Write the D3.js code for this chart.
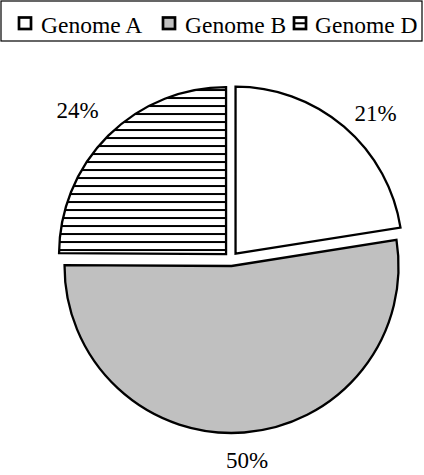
<!DOCTYPE html>
<html>
<head>
<meta charset="utf-8">
<script src="https://cdn.jsdelivr.net/npm/d3@7"></script>
<style>
  html, body { margin: 0; padding: 0; background: #fff; }
  svg { display: block; }
</style>
</head>
<body>
<svg id="chart" width="424" height="475"></svg>
<script>
// ---- data ----
const categories = ["Genome A", "Genome B", "Genome D"];
const values = [21.4, 50.0, 23.7];
const labels = ["21%", "50%", "24%"];

// ---- layout ----
const W = 424, H = 475;
const cx = 231, cy = 259, R = 167, explode = 7, labelR = 192;
const labelShift = [[7, 7], [0, 2], [-4, -6]];
const FONT = "'Liberation Serif', 'Times New Roman', serif";

const svg = d3.select("#chart");
const defs = svg.append("defs");
const hatch = defs.append("pattern")
  .attr("id", "hatch").attr("patternUnits", "userSpaceOnUse")
  .attr("width", 8).attr("height", 8).attr("y", 0);
hatch.append("rect").attr("width", 8).attr("height", 8).attr("fill", "#fff");
hatch.append("rect").attr("y", 3).attr("width", 8).attr("height", 2).attr("fill", "#000");

const fills = ["#ffffff", "#c0c0c0", "url(#hatch)"];
const color = d3.scaleOrdinal().domain(categories).range(fills);

const pie = d3.pie().sort(null).value(d => d.v);
const data = categories.map((c, i) => ({ c, v: values[i], label: labels[i] }));
const arcs = pie(data);
const arc = d3.arc().innerRadius(0).outerRadius(R);

const g = svg.append("g").attr("transform", `translate(${cx},${cy})`);
arcs.forEach((a, i) => {
  const mid = (a.startAngle + a.endAngle) / 2;
  const ux = Math.sin(mid), uy = -Math.cos(mid);
  g.append("path")
    .attr("d", arc(a))
    .attr("transform", `translate(${ux * explode},${uy * explode})`)
    .attr("fill", color(a.data.c))
    .attr("stroke", "#000")
    .attr("stroke-width", 2.3)
    .attr("stroke-linejoin", "miter");
  const lx = ux * labelR + ux * 20 + labelShift[i][0];
  const ly = uy * labelR + uy * 8.5 + labelShift[i][1];
  g.append("text")
    .attr("x", lx).attr("y", ly)
    .attr("text-anchor", "middle")
    .attr("dominant-baseline", "central")
    .attr("font-family", FONT).attr("font-size", 23)
    .attr("fill", "#000")
    .text(a.data.label);
});

// ---- legend ----
const legend = svg.append("g");
legend.append("rect")
  .attr("x", 1).attr("y", 1).attr("width", 421).attr("height", 40)
  .attr("fill", "#fff").attr("stroke", "#000").attr("stroke-width", 1.2);
const legX = [19, 163, 294];
categories.forEach((c, i) => {
  const it = legend.append("g").attr("transform", `translate(${legX[i]},0)`);
  it.append("rect")
    .attr("x", 0).attr("y", 17.5).attr("width", 12).attr("height", 11.5)
    .attr("fill", i === 2 ? "#fff" : color(c))
    .attr("stroke", "#000").attr("stroke-width", 2.7);
  if (i === 2) {
    it.append("line").attr("x1", 0).attr("x2", 12)
      .attr("y1", 23.25).attr("y2", 23.25)
      .attr("stroke", "#000").attr("stroke-width", 2);
  }
  it.append("text")
    .attr("x", i === 2 ? 21 : 22).attr("y", 33.3)
    .attr("font-family", FONT).attr("font-size", 23.5)
    .attr("fill", "#000")
    .text(c);
});
</script>
</body>
</html>
